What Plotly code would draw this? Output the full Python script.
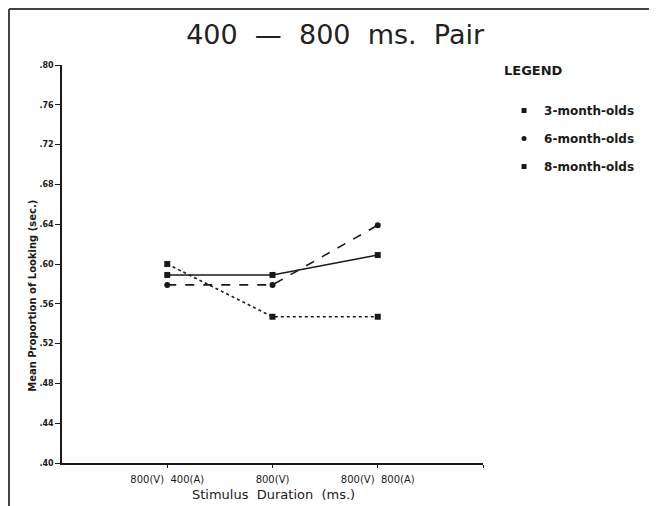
import plotly.graph_objects as go

categories = [1, 2, 3]
x_tick_vals = [1, 2, 3, 4]
x_tick_text = ["800(V)  400(A)", "800(V)", "800(V)  800(A)", ""]
y_tick_vals = [0.40, 0.44, 0.48, 0.52, 0.56, 0.60, 0.64, 0.68, 0.72, 0.76, 0.80]
y_tick_text = [".40", ".44", ".48", ".52", ".56", ".60", ".64", ".68", ".72", ".76", ".80"]

series_names = ["3-month-olds", "6-month-olds", "8-month-olds"]
three_month = [0.589, 0.589, 0.609]
six_month = [0.579, 0.579, 0.639]
eight_month = [0.600, 0.547, 0.547]

values = [three_month, six_month, eight_month]
dashes = ["solid", "dash", "dot"]
symbols = ["square", "circle", "square"]
ink = "#1a1a1a"
font_main = "DejaVu Sans"

fig = go.Figure()
for name, vals, dash, sym in zip(series_names, values, dashes, symbols):
    fig.add_trace(go.Scatter(
        x=categories, y=vals, mode="lines+markers", showlegend=False,
        line=dict(color=ink, width=1.6, dash=dash),
        marker=dict(symbol=sym, size=6, color=ink),
    ))
for i, (name, sym) in enumerate(zip(series_names, symbols)):
    fig.add_trace(go.Scatter(
        x=[None], y=[None], mode="markers", name="<b>" + name + "</b>", legendgroup=f"g{i}",
        marker=dict(symbol=sym, size=5, color=ink),
    ))

# The page body keeps an 8px default margin, so the figure is sized to fit.
fig.update_layout(
    width=649, height=498,
    margin=dict(l=54, r=174, t=57, b=43),
    paper_bgcolor="white", plot_bgcolor="white",
    font=dict(family=font_main, color=ink),
    title=dict(text="400  —  800  ms.  Pair", x=0.504, xanchor="center",
               y=0.946, yanchor="middle", font=dict(size=27, color="#222")),
    legend=dict(
        x=1.05, y=0.922, xanchor="left", yanchor="top",
        font=dict(size=12, color=ink), traceorder="grouped", tracegroupgap=9,
        bgcolor="rgba(0,0,0,0)",
    ),
    xaxis=dict(range=[0, 4], tickvals=x_tick_vals, ticktext=x_tick_text,
               showgrid=False, zeroline=False, showline=True, linecolor=ink,
               linewidth=1.5, ticks="outside", ticklen=3, tickcolor=ink,
               ticklabelstandoff=3,
               tickfont=dict(size=10), title=None),
    yaxis=dict(range=[0.40, 0.80], tickvals=y_tick_vals,
               ticktext=["<b>" + t + "</b>" for t in y_tick_text],
               showgrid=False, zeroline=False, showline=True, linecolor=ink,
               linewidth=1.5, ticks="outside", ticklen=5, tickcolor=ink,
               tickfont=dict(size=8), title=None),
    annotations=[
        dict(text="<b>Mean Proportion of Looking (sec.)</b>", textangle=-90,
             xref="paper", yref="paper", x=-0.069, y=0.42,
             xanchor="center", yanchor="middle", showarrow=False,
             font=dict(size=10)),
        dict(text="<b>LEGEND</b>", xref="paper", yref="paper", x=1.045, y=0.987,
             xanchor="left", yanchor="middle", showarrow=False,
             font=dict(size=13)),
        dict(text="Stimulus  Duration  (ms.)", xref="paper", yref="paper",
             x=0.503, y=-0.08, xanchor="center", yanchor="middle", showarrow=False,
             font=dict(size=13)),
    ],
    shapes=[
        dict(type="line", xref="paper", yref="paper", x0=-0.1259, x1=1.42, y0=1.1407, y1=1.1407,
             line=dict(color="#444", width=2)),
        dict(type="line", xref="paper", yref="paper", x0=-0.1259, x1=-0.1259, y0=1.1407, y1=-0.11,
             line=dict(color="#444", width=2)),
    ],
)

fig.write_html("out.html")
